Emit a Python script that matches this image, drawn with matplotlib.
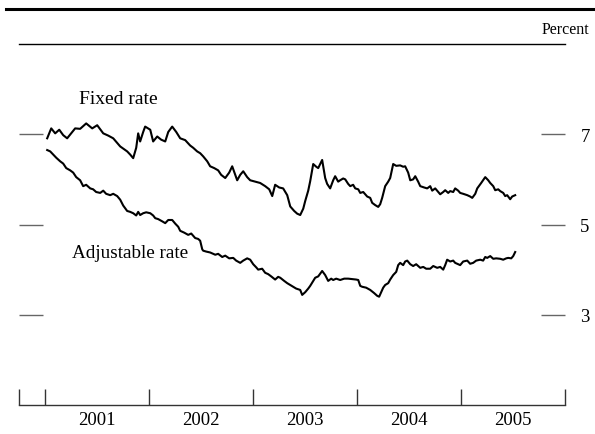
import matplotlib
matplotlib.use("Agg")
import matplotlib.pyplot as plt
from matplotlib.lines import Line2D

# Weekly mortgage rates (percent); dates as decimal years
fixed_t = [2001.021, 2001.060, 2001.098, 2001.137, 2001.175, 2001.213, 2001.252, 2001.290,
           2001.338, 2001.396, 2001.454, 2001.502, 2001.560, 2001.608, 2001.656, 2001.723,
           2001.790, 2001.819, 2001.848, 2001.877, 2001.896, 2001.915, 2001.944, 2001.963,
           2002.012, 2002.040, 2002.079, 2002.117, 2002.156, 2002.185, 2002.223, 2002.262,
           2002.300, 2002.348, 2002.396, 2002.425, 2002.463, 2002.492, 2002.521, 2002.560,
           2002.588, 2002.627, 2002.665, 2002.694, 2002.733, 2002.771, 2002.800, 2002.829,
           2002.848, 2002.877, 2002.906, 2002.944, 2002.973, 2003.021, 2003.069, 2003.117,
           2003.156, 2003.185, 2003.213, 2003.252, 2003.290, 2003.329, 2003.358, 2003.396,
           2003.425, 2003.454, 2003.483, 2003.502, 2003.531, 2003.550, 2003.579, 2003.608,
           2003.627, 2003.665, 2003.694, 2003.713, 2003.742, 2003.771, 2003.790, 2003.819,
           2003.838, 2003.867, 2003.887, 2003.915, 2003.935, 2003.963, 2003.983, 2004.012,
           2004.031, 2004.060, 2004.098, 2004.127, 2004.146, 2004.175, 2004.204, 2004.223,
           2004.242, 2004.271, 2004.300, 2004.319, 2004.348, 2004.377, 2004.415, 2004.444,
           2004.463, 2004.492, 2004.512, 2004.540, 2004.560, 2004.588, 2004.608, 2004.646,
           2004.675, 2004.704, 2004.723, 2004.752, 2004.781, 2004.800, 2004.829, 2004.848,
           2004.877, 2004.896, 2004.925, 2004.944, 2004.973, 2004.992, 2005.021, 2005.060,
           2005.088, 2005.108, 2005.137, 2005.156, 2005.194, 2005.233, 2005.262, 2005.281,
           2005.310, 2005.329, 2005.358, 2005.377, 2005.406, 2005.425, 2005.444, 2005.473,
           2005.492, 2005.521]
fixed_v = [6.91, 7.13, 7.02, 7.10, 6.98, 6.91, 7.02, 7.13,
           7.12, 7.24, 7.13, 7.20, 7.02, 6.97, 6.91, 6.73,
           6.62, 6.55, 6.47, 6.70, 7.02, 6.84, 7.05, 7.17,
           7.10, 6.84, 6.95, 6.88, 6.84, 7.05, 7.17, 7.05,
           6.91, 6.87, 6.75, 6.70, 6.62, 6.58, 6.51, 6.40,
           6.29, 6.25, 6.20, 6.10, 6.03, 6.15, 6.29, 6.10,
           5.98, 6.10, 6.18, 6.05, 5.98, 5.95, 5.92, 5.85,
           5.78, 5.63, 5.88, 5.82, 5.80, 5.65, 5.40, 5.30,
           5.24, 5.21, 5.35, 5.52, 5.75, 5.96, 6.34, 6.28,
           6.25, 6.43, 6.03, 5.90, 5.80, 5.98, 6.07, 5.95,
           5.98, 6.02, 6.00, 5.90, 5.85, 5.88, 5.80, 5.78,
           5.70, 5.72, 5.62, 5.59, 5.48, 5.43, 5.39, 5.45,
           5.59, 5.85, 5.95, 6.03, 6.34, 6.30, 6.31, 6.28,
           6.29, 6.15, 5.98, 6.00, 6.07, 5.95, 5.85, 5.82,
           5.80, 5.85, 5.75, 5.80, 5.72, 5.67, 5.72, 5.76,
           5.70, 5.74, 5.72, 5.80, 5.75, 5.70, 5.68, 5.65,
           5.62, 5.59, 5.68, 5.80, 5.92, 6.05, 5.98, 5.92,
           5.85, 5.76, 5.78, 5.74, 5.70, 5.63, 5.65, 5.56,
           5.62, 5.65]

adj_t = [2001.021, 2001.050, 2001.079, 2001.108, 2001.146, 2001.175, 2001.204, 2001.242,
         2001.271, 2001.300, 2001.338, 2001.367, 2001.396, 2001.435, 2001.463, 2001.492,
         2001.531, 2001.560, 2001.588, 2001.627, 2001.656, 2001.694, 2001.723, 2001.752,
         2001.790, 2001.819, 2001.848, 2001.877, 2001.896, 2001.915, 2001.944, 2001.973,
         2002.012, 2002.040, 2002.060, 2002.088, 2002.127, 2002.156, 2002.185, 2002.223,
         2002.252, 2002.281, 2002.300, 2002.338, 2002.377, 2002.406, 2002.444, 2002.473,
         2002.492, 2002.512, 2002.521, 2002.550, 2002.588, 2002.617, 2002.637, 2002.665,
         2002.704, 2002.733, 2002.771, 2002.810, 2002.838, 2002.877, 2002.906, 2002.944,
         2002.973, 2003.002, 2003.031, 2003.050, 2003.088, 2003.117, 2003.146, 2003.175,
         2003.213, 2003.242, 2003.262, 2003.300, 2003.329, 2003.358, 2003.387, 2003.415,
         2003.454, 2003.473, 2003.502, 2003.531, 2003.550, 2003.579, 2003.598, 2003.627,
         2003.665, 2003.694, 2003.723, 2003.752, 2003.771, 2003.800, 2003.838, 2003.877,
         2003.915, 2003.954, 2003.992, 2004.012, 2004.031, 2004.050, 2004.088, 2004.127,
         2004.165, 2004.194, 2004.213, 2004.233, 2004.252, 2004.271, 2004.300, 2004.319,
         2004.348, 2004.377, 2004.396, 2004.415, 2004.444, 2004.463, 2004.483, 2004.512,
         2004.540, 2004.569, 2004.608, 2004.637, 2004.665, 2004.704, 2004.733, 2004.771,
         2004.800, 2004.829, 2004.848, 2004.867, 2004.896, 2004.925, 2004.944, 2004.973,
         2004.992, 2005.021, 2005.060, 2005.088, 2005.117, 2005.146, 2005.185, 2005.213,
         2005.233, 2005.252, 2005.281, 2005.310, 2005.338, 2005.377, 2005.406, 2005.435,
         2005.454, 2005.483, 2005.502, 2005.521]
adj_v = [6.65, 6.62, 6.55, 6.48, 6.40, 6.35, 6.25, 6.20,
         6.15, 6.05, 5.98, 5.85, 5.88, 5.80, 5.78, 5.72,
         5.70, 5.75, 5.68, 5.65, 5.68, 5.63, 5.55, 5.42,
         5.30, 5.28, 5.25, 5.20, 5.28, 5.21, 5.25, 5.27,
         5.25, 5.20, 5.14, 5.12, 5.07, 5.03, 5.10, 5.10,
         5.02, 4.95, 4.86, 4.82, 4.77, 4.80, 4.70, 4.68,
         4.64, 4.45, 4.42, 4.40, 4.38, 4.35, 4.33, 4.35,
         4.28, 4.31, 4.25, 4.26, 4.20, 4.15, 4.20, 4.25,
         4.22, 4.12, 4.05, 4.00, 4.02, 3.93, 3.90, 3.85,
         3.78, 3.84, 3.82, 3.75, 3.70, 3.66, 3.62, 3.58,
         3.55, 3.44, 3.50, 3.58, 3.64, 3.75, 3.82, 3.85,
         3.97, 3.88, 3.75, 3.80, 3.77, 3.80, 3.77, 3.80,
         3.80, 3.79, 3.78, 3.77, 3.64, 3.62, 3.60, 3.55,
         3.48, 3.42, 3.40, 3.50, 3.60, 3.66, 3.70, 3.78,
         3.88, 3.95, 4.10, 4.15, 4.10, 4.18, 4.20, 4.12,
         4.08, 4.12, 4.04, 4.06, 4.02, 4.02, 4.08, 4.04,
         4.06, 4.00, 4.10, 4.22, 4.18, 4.20, 4.15, 4.12,
         4.10, 4.18, 4.20, 4.13, 4.15, 4.20, 4.22, 4.20,
         4.28, 4.26, 4.30, 4.24, 4.25, 4.24, 4.22, 4.25,
         4.26, 4.25, 4.30, 4.39]

year_labels = ["2001", "2002", "2003", "2004", "2005"]
year_centers = [2001.5, 2002.5, 2003.5, 2004.5, 2005.5]
year_bounds = [2000.75, 2001, 2002, 2003, 2004, 2005, 2006]
y_ticks = [3, 5, 7]

plt.rcParams["font.family"] = ["Liberation Serif", "DejaVu Serif"]

W, H = 595, 435
fig = plt.figure(figsize=(W / 100, H / 100), dpi=100)
ax = fig.add_axes([19 / W, 1 - 406 / H, 546 / W, (406 - 45) / H])

ax.plot(fixed_t, fixed_v, color="black", lw=1.5, solid_joinstyle="round")
ax.plot(adj_t, adj_v, color="black", lw=1.5, solid_joinstyle="round")

ax.set_xlim(2000.75, 2006.0)
ax.set_ylim(1, 9)

for s in ("left", "right"):
    ax.spines[s].set_visible(False)
ax.spines["top"].set_linewidth(1.0)
ax.spines["bottom"].set_linewidth(1.0)
ax.spines["bottom"].set_color("#333333")

ax.set_xticks(year_bounds)
ax.tick_params(axis="x", which="major", direction="in", length=11.5, width=1.0,
               color="#333333", labelbottom=False)
ax.set_xticks(year_centers, minor=True)
ax.set_xticklabels(year_labels, minor=True)
ax.tick_params(axis="x", which="minor", length=0, labelsize=13.5, pad=4)

ax.set_yticks(y_ticks)
ax.set_yticklabels([str(v) for v in y_ticks])
ax.tick_params(axis="y", direction="in", length=17, width=1.0, color="#666666",
               left=True, right=True, labelleft=False, labelright=True,
               labelsize=13.5, pad=11)

ax.text(2001.33, 7.8, "Fixed rate", fontsize=14, ha="left", va="center")
ax.text(2001.26, 4.39, "Adjustable rate", fontsize=13.8, ha="left", va="center")

fig.text(589 / W, 1 - 30 / H, "Percent", fontsize=11.5, ha="right", va="center")
fig.add_artist(Line2D([6 / W, 1.0], [1 - 9.5 / H] * 2, lw=2.2, color="black",
                      transform=fig.transFigure))

fig.savefig("out.png", dpi=100)
